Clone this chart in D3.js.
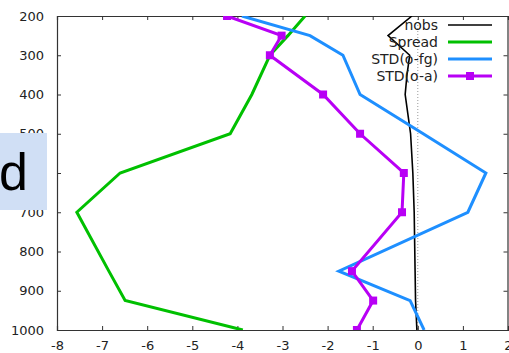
<!DOCTYPE html>
<html>
<head>
<meta charset="utf-8">
<script src="https://cdn.jsdelivr.net/npm/d3@7"></script>
<style>
  html, body { margin: 0; padding: 0; background: #fff; }
  svg { display: block; font-family: "DejaVu Sans", sans-serif; }
</style>
</head>
<body>
<div id="chart"></div>
<script>
// pressure levels (hPa)
const levels = [200, 250, 300, 400, 500, 600, 700, 850, 925, 1000];

// series
const spread = [-2.50, -2.88, -3.28, -3.68, -4.16, -6.60, -7.56, -6.85, -6.49, -3.88];
const stdFg  = [-3.90, -2.39, -1.66, -1.28, 0.12, 1.51, 1.11, -1.75, -0.17, 0.14];
const stdAn  = [-4.23, -3.02, -3.28, -2.10, -1.28, -0.31, -0.35, -1.46, -0.99, -1.35];

// nobs (scaled) on its own finer levels
const nobsLevels = [200, 250, 300, 350, 400, 450, 500, 600, 700, 850, 925, 1000];
const nobs = [-0.13, -0.66, -0.18, -0.24, -0.28, -0.22, -0.16, -0.11, -0.08, -0.06, -0.05, -0.02];

const xTicks = [-8, -7, -6, -5, -4, -3, -2, -1, 0, 1, 2];
const yTicks = [200, 300, 400, 500, 600, 700, 800, 900, 1000];

const series = [
    { name: 'nobs', lv: nobsLevels, vals: nobs, color: '#000000', width: 1.6, marker: false },
    { name: 'Spread', lv: levels, vals: spread, color: '#00c000', width: 3, marker: false },
    { name: 'STD(o-fg)', lv: levels, vals: stdFg, color: '#1e8fff', width: 3, marker: false },
    { name: 'STD(o-a)', lv: levels, vals: stdAn, color: '#b800f5', width: 3, marker: true }
];

const width = 509, height = 353;
const margin = { top: 16, right: 1, bottom: 23, left: 57 };

const svg = d3.select('#chart').append('svg')
    .attr('width', width)
    .attr('height', height);

const x = d3.scaleLinear().domain([-8, 2]).range([margin.left, width - margin.right]);
const y = d3.scaleLinear().domain([200, 1000]).range([margin.top, height - margin.bottom]);

svg.append('clipPath').attr('id', 'clip')
    .append('rect')
    .attr('x', margin.left).attr('y', margin.top)
    .attr('width', x(2) - x(-8)).attr('height', y(1000) - y(200));

// zero line (dotted)
svg.append('line')
    .attr('x1', x(0)).attr('x2', x(0))
    .attr('y1', y(200)).attr('y2', y(1000))
    .attr('stroke', '#999')
    .attr('stroke-width', 1)
    .attr('stroke-dasharray', '1,2');

// axes: ticks pointing inwards, on all four sides
const tickLen = 4;
const axisColor = '#333';
const plain = d => String(d);   // hyphen minus, like gnuplot

const axBottom = svg.append('g')
    .attr('transform', `translate(0,${y(1000)})`)
    .call(d3.axisBottom(x).tickValues(xTicks).tickSize(-tickLen).tickPadding(8).tickFormat(plain));
const axTop = svg.append('g')
    .attr('transform', `translate(0,${y(200)})`)
    .call(d3.axisTop(x).tickValues(xTicks).tickSize(-tickLen).tickFormat(''));
const axLeft = svg.append('g')
    .attr('transform', `translate(${x(-8)},0)`)
    .call(d3.axisLeft(y).tickValues(yTicks).tickSize(-tickLen).tickPadding(13).tickFormat(plain));
const axRight = svg.append('g')
    .attr('transform', `translate(${x(2) - 0.5},0)`)
    .call(d3.axisRight(y).tickValues(yTicks).tickSize(-tickLen).tickFormat(''));

[axBottom, axTop, axLeft, axRight].forEach(g => {
    g.select('.domain').attr('stroke', axisColor).attr('stroke-width', 1.2);
    g.selectAll('.tick line').attr('stroke', axisColor);
    g.selectAll('.tick text')
        .attr('fill', '#222')
        .style('font-size', '13px')
        .style('font-family', '"DejaVu Sans", sans-serif');
});
axBottom.selectAll('.tick text').attr('dy', '0.9em');

// series lines
const plot = svg.append('g').attr('clip-path', 'url(#clip)');
series.forEach(s => {
    const pts = s.vals.map((v, i) => [v, s.lv[i]]);
    const line = d3.line().x(d => x(d[0])).y(d => y(d[1]));
    plot.append('path')
        .datum(pts)
        .attr('fill', 'none')
        .attr('stroke', s.color)
        .attr('stroke-width', s.width)
        .attr('stroke-linejoin', 'miter')
        .attr('d', line);
    if (s.marker) {
        plot.selectAll(null)
            .data(pts)
            .enter()
            .append('rect')
            .attr('x', d => x(d[0]) - 4)
            .attr('y', d => y(d[1]) - 4)
            .attr('width', 8)
            .attr('height', 8)
            .attr('fill', s.color);
    }
});

// legend
const legend = svg.append('g');
series.forEach((s, i) => {
    const ly = 25 + i * 17;
    legend.append('text')
        .attr('x', 438)
        .attr('y', ly)
        .attr('dy', '0.35em')
        .attr('text-anchor', 'end')
        .attr('fill', '#222')
        .style('font-size', '14px')
        .text(s.name);
    legend.append('line')
        .attr('x1', 448).attr('x2', 492)
        .attr('y1', ly).attr('y2', ly)
        .attr('stroke', s.color)
        .attr('stroke-width', s.width);
    if (s.marker) {
        legend.append('rect')
            .attr('x', 470 - 4).attr('y', ly - 4)
            .attr('width', 8).attr('height', 8)
            .attr('fill', s.color);
    }
});

// overlay label box
svg.append('rect')
    .attr('x', 0).attr('y', 133)
    .attr('width', 47).attr('height', 77)
    .attr('fill', '#d0dff5');
svg.append('text')
    .attr('x', -1)
    .attr('y', 190)
    .attr('fill', '#000')
    .style('font-family', '"Liberation Sans", Arial, sans-serif')
    .style('font-size', '52px')
    .text('d');
</script>
</body>
</html>
